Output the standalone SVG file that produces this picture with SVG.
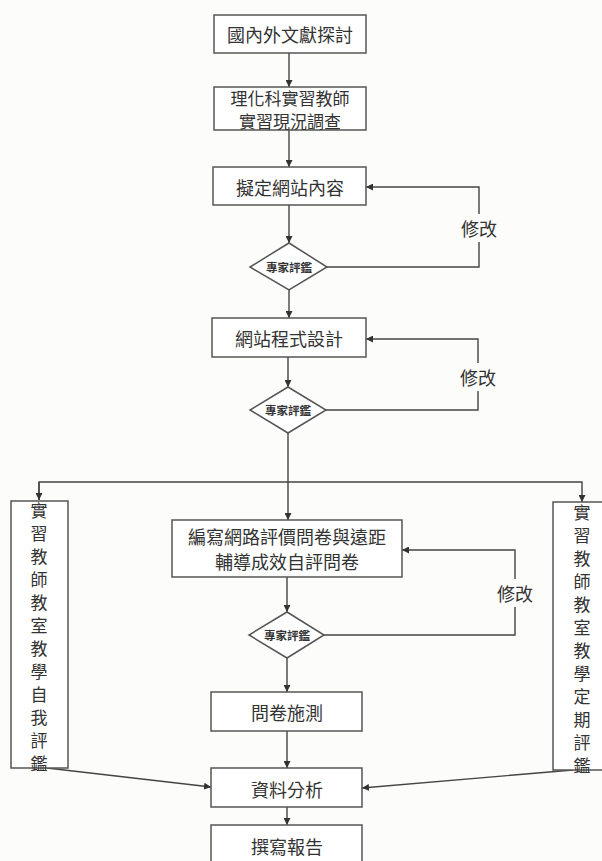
<svg xmlns="http://www.w3.org/2000/svg" width="602" height="861" viewBox="0 0 602 861">
<defs>
<marker id="ah" viewBox="0 0 10 10" refX="10" refY="5" markerWidth="7" markerHeight="7" orient="auto" markerUnits="userSpaceOnUse">
<path d="M0,0 L10,5 L0,10 z" fill="#333"/>
</marker>
<style>
.box{fill:#fff;stroke:#555;stroke-width:1.5}
.dia{fill:#fff;stroke:#555;stroke-width:1.5}
.ln{fill:none;stroke:#444;stroke-width:1.4}
.t{font-family:"Noto Sans CJK TC","Noto Sans CJK SC",sans-serif;font-size:18px;fill:#333;text-anchor:middle;dominant-baseline:central}
.t2{font-family:"Noto Sans CJK TC","Noto Sans CJK SC",sans-serif;font-size:17px;fill:#333;text-anchor:middle;dominant-baseline:central}
.s{font-family:"Noto Sans CJK TC","Noto Sans CJK SC",sans-serif;font-size:11.5px;font-weight:bold;fill:#333;text-anchor:middle;dominant-baseline:central}
.lbl{font-family:"Noto Sans CJK TC","Noto Sans CJK SC",sans-serif;font-size:18px;fill:#333;text-anchor:middle;dominant-baseline:central}
.v{font-family:"Noto Sans CJK TC","Noto Sans CJK SC",sans-serif;font-size:17px;fill:#333;text-anchor:middle;dominant-baseline:central}
</style>
</defs>
<rect width="602" height="861" fill="#fcfcfa"/>
<g id="connectors">
<line class="ln" x1="289" y1="53" x2="289" y2="87" marker-end="url(#ah)"/>
<line class="ln" x1="289" y1="130" x2="289" y2="167" marker-end="url(#ah)"/>
<line class="ln" x1="289" y1="205" x2="289" y2="243" marker-end="url(#ah)"/>
<line class="ln" x1="289" y1="290" x2="289" y2="318" marker-end="url(#ah)"/>
<line class="ln" x1="288" y1="357" x2="288" y2="387" marker-end="url(#ah)"/>
<line class="ln" x1="288" y1="433" x2="288" y2="520" marker-end="url(#ah)"/>
<polyline class="ln" points="39,500 39,482 582,482 582,502" marker-end="url(#ah)"/>
<path class="ln" d="M39,482 L39,500" marker-end="url(#ah)"/>
<line class="ln" x1="287" y1="577" x2="287" y2="612" marker-end="url(#ah)"/>
<line class="ln" x1="287" y1="658" x2="287" y2="692" marker-end="url(#ah)"/>
<line class="ln" x1="287" y1="731" x2="287" y2="768" marker-end="url(#ah)"/>
<line class="ln" x1="287" y1="807" x2="287" y2="825" marker-end="url(#ah)"/>
<polyline class="ln" points="327,267 479,267 479,187 366,187" marker-end="url(#ah)"/>
<polyline class="ln" points="326,410 478,410 478,339 366,339" marker-end="url(#ah)"/>
<polyline class="ln" points="324,635 515,635 515,550 402,550" marker-end="url(#ah)"/>
<line class="ln" x1="47" y1="768" x2="211" y2="787" marker-end="url(#ah)"/>
<line class="ln" x1="573" y1="770" x2="362" y2="788" marker-end="url(#ah)"/>
<rect x="458" y="214" width="42" height="28" fill="#fcfcfa"/>
<text class="lbl" x="479" y="228">修改</text>
<rect x="457" y="363" width="42" height="28" fill="#fcfcfa"/>
<text class="lbl" x="478" y="377">修改</text>
<rect x="494" y="579" width="42" height="28" fill="#fcfcfa"/>
<text class="lbl" x="515" y="593">修改</text>
</g>
<g id="n1"><rect class="box" x="214" y="15" width="152" height="38"/><text class="t" x="290" y="34">國內外文獻探討</text></g>
<g id="n2"><rect class="box" x="214" y="87" width="152" height="43"/><text class="t2" x="290" y="97.5">理化科實習教師</text><text class="t2" x="290" y="120.5">實習現況調查</text></g>
<g id="n3"><rect class="box" x="213" y="167" width="153" height="38"/><text class="t" x="290" y="187">擬定網站內容</text></g>
<g id="d1"><polygon class="dia" points="289,243 327,267 289,290 250,267"/><text class="s" x="289" y="267">專家評鑑</text></g>
<g id="n4"><rect class="box" x="212" y="318" width="154" height="39"/><text class="t" x="289" y="338">網站程式設計</text></g>
<g id="d2"><polygon class="dia" points="288,387 326,410 288,433 250,410"/><text class="s" x="288" y="410">專家評鑑</text></g>
<g id="n5"><rect class="box" x="172" y="520" width="230" height="57"/><text class="t" x="287" y="536">編寫網路評價問卷與遠距</text><text class="t" x="287" y="561">輔導成效自評問卷</text></g>
<g id="d3"><polygon class="dia" points="287,612 324,635 287,658 249,635"/><text class="s" x="287" y="635">專家評鑑</text></g>
<g id="n6"><rect class="box" x="211" y="692" width="151" height="39"/><text class="t" x="287" y="712">問卷施測</text></g>
<g id="n7"><rect class="box" x="211" y="768" width="151" height="39"/><text class="t" x="287" y="789">資料分析</text></g>
<g id="n8"><rect class="box" x="211" y="825" width="151" height="45"/><text class="t" x="287" y="846">撰寫報告</text></g>
<g id="left"><rect class="box" x="11" y="501" width="57" height="267"/>
<text class="v" x="39" y="509">實</text><text class="v" x="39" y="532">習</text><text class="v" x="39" y="555">教</text><text class="v" x="39" y="578">師</text><text class="v" x="39" y="601">教</text><text class="v" x="39" y="624">室</text><text class="v" x="39" y="647">教</text><text class="v" x="39" y="670">學</text><text class="v" x="39" y="693">自</text><text class="v" x="39" y="716">我</text><text class="v" x="39" y="739">評</text><text class="v" x="39" y="762">鑑</text></g>
<g id="right"><rect class="box" x="553" y="502" width="58" height="268"/>
<text class="v" x="582" y="511">實</text><text class="v" x="582" y="534">習</text><text class="v" x="582" y="557">教</text><text class="v" x="582" y="580">師</text><text class="v" x="582" y="603">教</text><text class="v" x="582" y="626">室</text><text class="v" x="582" y="649">教</text><text class="v" x="582" y="672">學</text><text class="v" x="582" y="695">定</text><text class="v" x="582" y="718">期</text><text class="v" x="582" y="741">評</text><text class="v" x="582" y="764">鑑</text></g>
</svg>
